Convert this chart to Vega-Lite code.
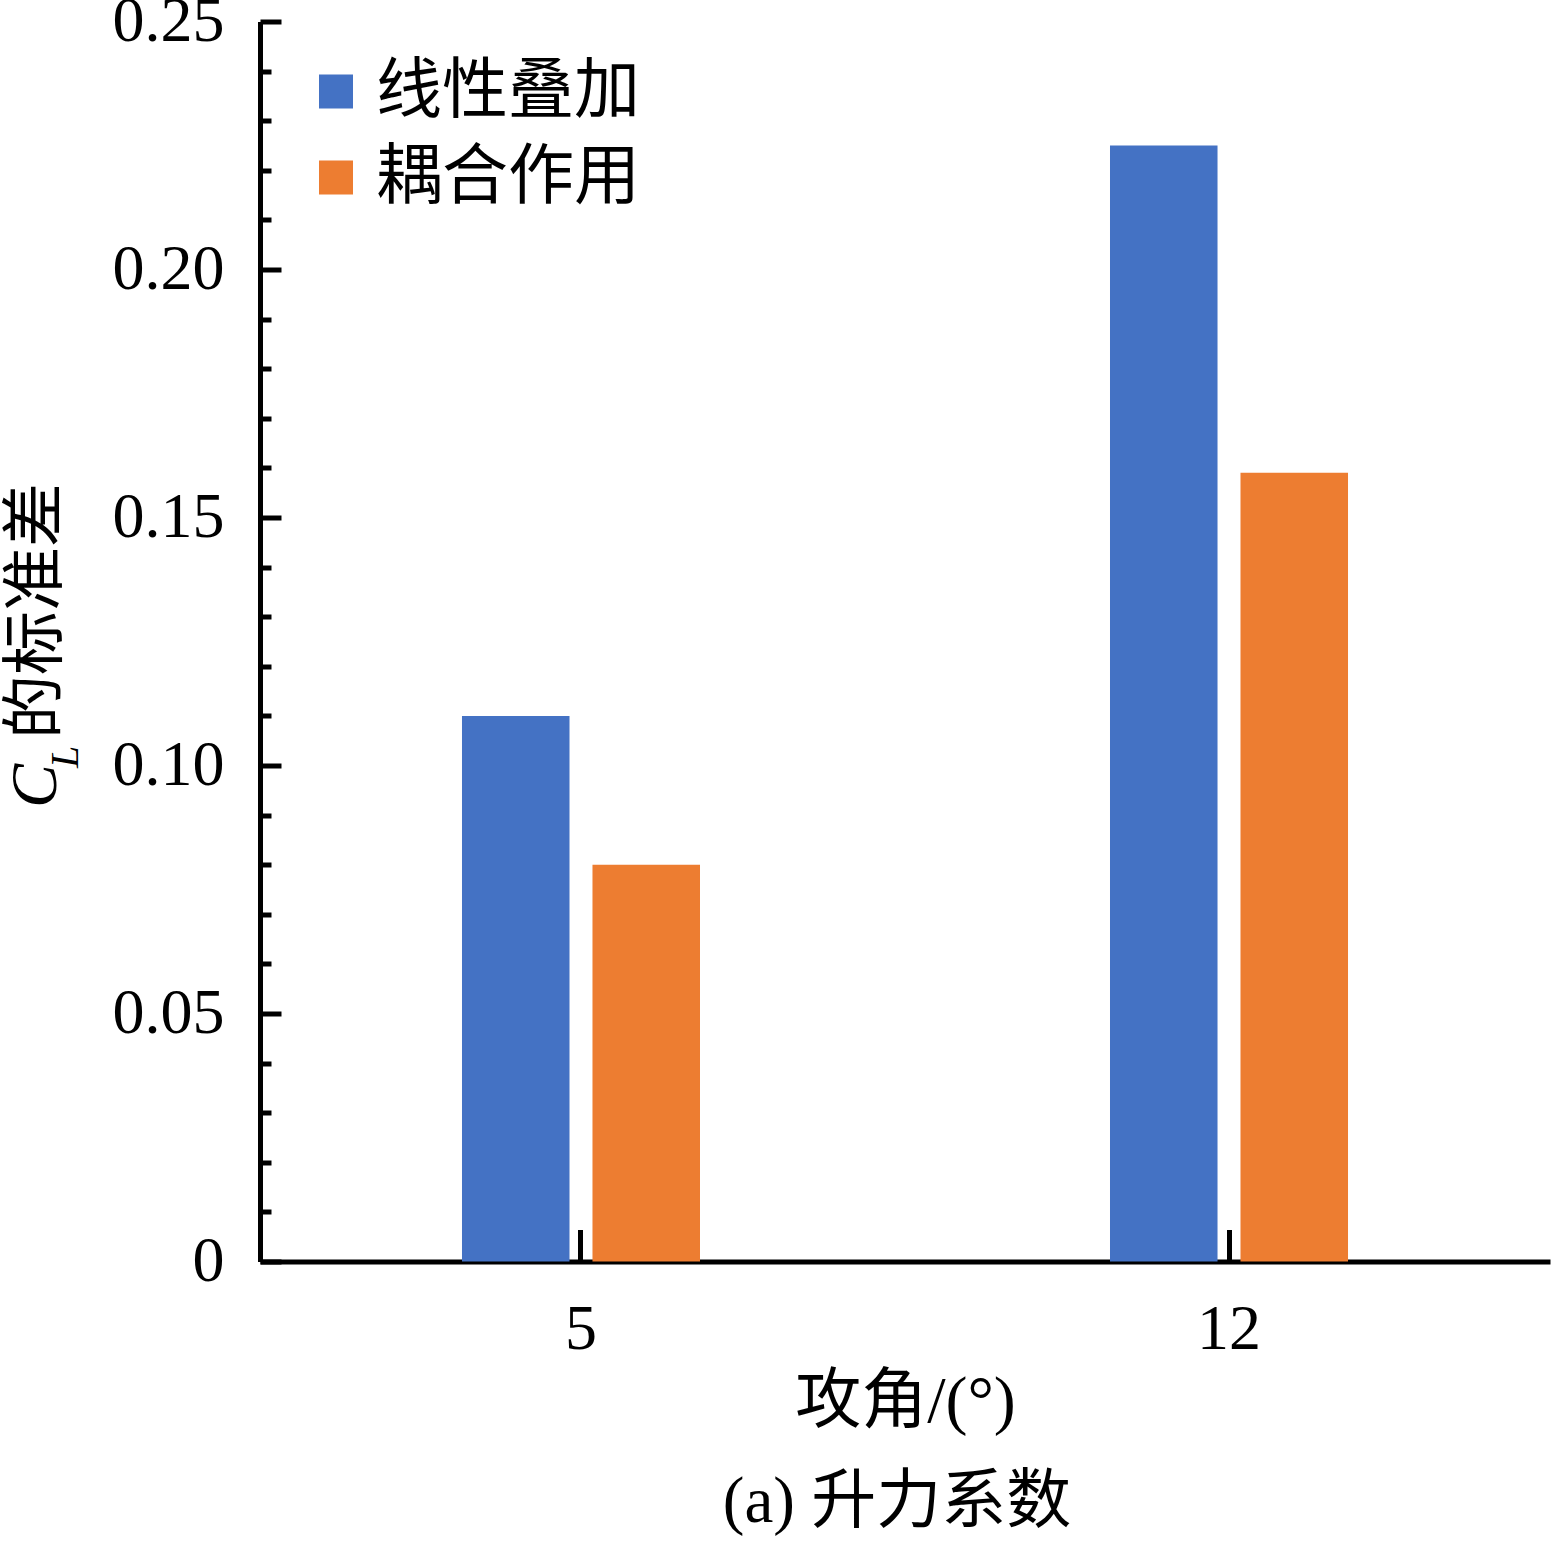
{
  "$schema": "https://vega.github.io/schema/vega-lite/v6.json",
  "width": 1290,
  "height": 1240,
  "autosize": {"type": "none"},
  "padding": {"left": 260, "top": 21.5, "right": 2, "bottom": 280.5},
  "background": "white",
  "config": {
    "view": {"stroke": null},
    "axis": {"grid": false, "domainColor": "black", "tickColor": "black", "labelColor": "black", "titleColor": "black"}
  },
  "data": {
    "values": [
      {"angle": "5", "series": "线性叠加", "v": 0.110},
      {"angle": "5", "series": "耦合作用", "v": 0.080},
      {"angle": "12", "series": "线性叠加", "v": 0.225},
      {"angle": "12", "series": "耦合作用", "v": 0.159}
    ]
  },
  "title": {
    "text": "(a) 升力系数",
    "orient": "bottom",
    "frame": "group",
    "anchor": "middle",
    "offset": 36,
    "dx": -8,
    "fontSize": 65,
    "fontWeight": "normal",
    "font": "Liberation Serif, Noto Sans CJK SC",
    "color": "black"
  },
  "layer": [
    {
      "mark": {"type": "bar"},
      "encoding": {
        "x": {
          "field": "angle", "type": "nominal", "sort": ["5", "12"],
          "scale": {"paddingInner": 0.6327, "paddingOuter": 0.3117},
          "axis": {
            "title": "攻角/(°)", "labelAngle": 0,
            "labelFont": "Liberation Serif", "labelFontSize": 64, "labelPadding": 68,
            "titleFont": "Liberation Serif, Noto Sans CJK SC", "titleFontSize": 66, "titleFontWeight": "normal", "titlePadding": 8,
            "domainWidth": 5, "tickWidth": 5, "tickSize": -32
          }
        },
        "xOffset": {
          "field": "series", "type": "nominal", "sort": ["线性叠加", "耦合作用"],
          "scale": {"paddingInner": 0.176, "paddingOuter": 0}
        },
        "y": {
          "field": "v", "type": "quantitative",
          "scale": {"domain": [0, 0.25], "nice": false},
          "axis": {
            "orient": "left",
            "values": [0, 0.05, 0.1, 0.15, 0.2, 0.25],
            "labelExpr": "datum.value == 0 ? '0' : format(datum.value, '.2f')",
            "labelFont": "Liberation Serif", "labelFontSize": 64, "labelPadding": 57,
            "domainWidth": 5, "tickWidth": 5, "tickSize": -21,
            "title": "的标准差",
            "titleFont": "Noto Sans CJK SC", "titleFontSize": 64, "titleFontWeight": "normal",
            "titleAngle": -90, "titleAlign": "left", "titleBaseline": "alphabetic",
            "titleX": -205, "titleY": 717
          }
        },
        "color": {
          "field": "series", "type": "nominal",
          "scale": {"domain": ["线性叠加", "耦合作用"], "range": ["#4472C4", "#ED7D31"]},
          "legend": {
            "title": null, "orient": "none", "legendX": 43, "legendY": 37,
            "symbolType": "square", "symbolSize": 1156, "symbolStrokeWidth": 0,
            "labelFont": "Noto Sans CJK SC", "labelFontSize": 66, "labelColor": "black",
            "labelOffset": 7, "labelLimit": 600, "rowPadding": 20, "padding": 0
          }
        }
      }
    },
    {
      "mark": {"type": "point", "opacity": 0},
      "encoding": {
        "y": {
          "field": "v", "type": "quantitative",
          "scale": {"domain": [0, 0.25], "nice": false},
          "axis": {
            "orient": "left",
            "values": [0.01, 0.02, 0.03, 0.04, 0.06, 0.07, 0.08, 0.09, 0.11, 0.12, 0.13, 0.14, 0.16, 0.17, 0.18, 0.19, 0.21, 0.22, 0.23, 0.24],
            "labels": false, "domain": false,
            "tickWidth": 5, "tickSize": -11,
            "title": "C",
            "titleFont": "Liberation Serif", "titleFontSize": 66, "titleFontStyle": "italic", "titleFontWeight": "normal",
            "titleAngle": -90, "titleAlign": "left", "titleBaseline": "alphabetic",
            "titleX": -205, "titleY": 786
          }
        }
      }
    },
    {
      "mark": {"type": "point", "opacity": 0},
      "encoding": {
        "y": {
          "field": "v", "type": "quantitative",
          "scale": {"domain": [0, 0.25], "nice": false},
          "axis": {
            "orient": "left",
            "labels": false, "domain": false, "ticks": false,
            "title": "L",
            "titleFont": "Liberation Serif", "titleFontSize": 40, "titleFontStyle": "italic", "titleFontWeight": "normal",
            "titleAngle": -90, "titleAlign": "left", "titleBaseline": "alphabetic",
            "titleX": -183, "titleY": 746
          }
        }
      }
    }
  ],
  "resolve": {"axis": {"y": "independent"}}
}
